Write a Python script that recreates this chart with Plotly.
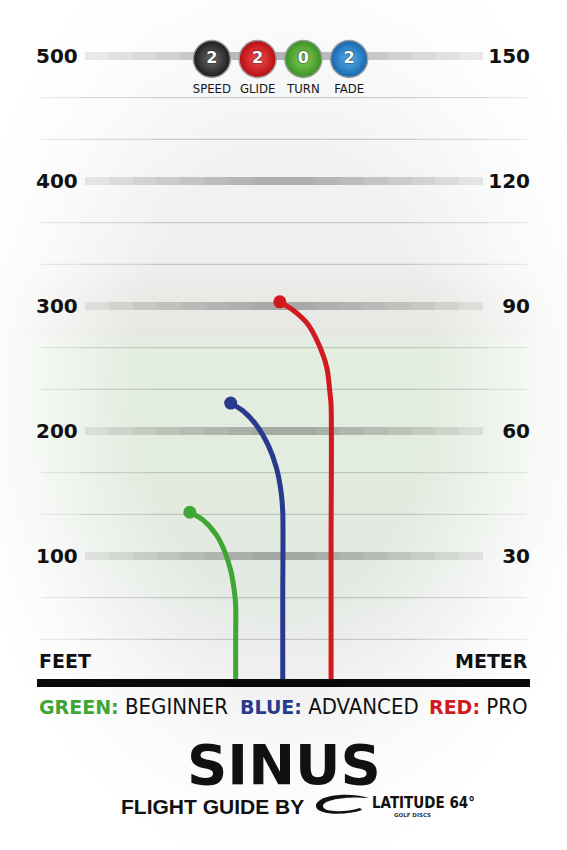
import base64
import plotly.graph_objects as go

# ---------------- data ----------------
meter_ticks = [30, 60, 90, 120, 150]
feet_labels = ["100", "200", "300", "400", "500"]
meter_labels = ["30", "60", "90", "120", "150"]
minor_ticks = [10, 20, 40, 50, 70, 80, 100, 110, 130, 140]

# flight paths: lateral position (m) and distance (m)
green_x = [-11.6, -11.6, -11.6, -11.9, -12.7, -14.2, -16.2, -19.4, -22.6]
green_y = [0, 9, 18.2, 21.4, 26.2, 31.0, 35.0, 38.6, 40.5]
blue_x = [-0.3, -0.3, -0.3, -0.7, -1.8, -3.8, -6.6, -9.8, -12.8]
blue_y = [0, 20, 40.6, 45.4, 51.1, 56.6, 61.4, 64.8, 66.7]
red_x = [11.3, 11.3, 11.3, 11.0, 10.3, 8.2, 5.5, 2.2, -1.0]
red_y = [0, 33, 66.2, 69.4, 75.1, 81.1, 85.9, 89.0, 91.0]

level_names = ["GREEN:", "BLUE:", "RED:"]
level_labels = ["BEGINNER", "ADVANCED", "PRO"]
level_colors = ["#3fa535", "#283a8c", "#d2191e"]

flight_labels = ["SPEED", "GLIDE", "TURN", "FADE"]
flight_values = ["2", "2", "0", "2"]
flight_edge = ["#1c1c1c", "#b80d12", "#3a9222", "#1566ad"]
flight_center = ["#6e6e6e", "#f25050", "#86d05a", "#5ab4ee"]

disc_name = "SINUS"

# ---------------- layout geometry ----------------
W, H = 567, 850
ML, MR, MT, MB = 37, 37, 44, 156
PW, PH = W - ML - MR, H - MT - MB
BASE = H - MB


def px(x):
    return (x - ML) / PW


def py(y):
    return (BASE - y) / PH


S = 625 / 150.0  # px per metre
y_range = [(681 - BASE) / S, (681 - MT) / S]
x_range = [(ML - 284) / S, (W - MR - 284) / S]

fig = go.Figure()

paths = [(green_x, green_y), (blue_x, blue_y), (red_x, red_y)]
for (xs, ys), col in zip(paths, level_colors):
    fig.add_trace(go.Scatter(x=xs, y=ys, mode="lines",
                             line=dict(color=col, width=5, shape="spline", smoothing=0.8),
                             hoverinfo="skip", showlegend=False))
    fig.add_trace(go.Scatter(x=[xs[-1]], y=[ys[-1]], mode="markers",
                             marker=dict(color=col, size=13),
                             hoverinfo="skip", showlegend=False))

# dummy trace for the right (metre) axis
fig.add_trace(go.Scatter(x=[None], y=[None], yaxis="y2", showlegend=False, hoverinfo="skip"))

# flight-number badges
fig.add_trace(go.Scatter(
    x=flight_labels, y=[0] * 4, xaxis="x2", yaxis="y3", mode="markers+text",
    marker=dict(size=37, color=flight_edge,
                gradient=dict(type="radial", color=flight_center),
                line=dict(color="#9c9c9c", width=1.5)),
    text=flight_values, textposition="middle center",
    textfont=dict(family="DejaVu Sans", size=16, color="white", weight="bold",
                  shadow="0px 0px 2px #000"),
    cliponaxis=False, hoverinfo="skip", showlegend=False))
fig.add_trace(go.Scatter(
    x=flight_labels, y=[0] * 4, xaxis="x2", yaxis="y3", mode="markers+text",
    marker=dict(size=37, opacity=0),
    text=flight_labels, textposition="bottom center",
    textfont=dict(family="Liberation Sans Narrow, DejaVu Sans Condensed, sans-serif",
                  size=13, color="#151515"),
    cliponaxis=False, hoverinfo="skip", showlegend=False))

# ---------------- background (gradient image) ----------------
svg = f'''<svg xmlns="http://www.w3.org/2000/svg" width="{W}" height="{H}" viewBox="0 0 {W} {H}">
<defs>
<linearGradient id="v" x1="0" y1="0" x2="0" y2="1">
<stop offset="0" stop-color="#f4f5f7"/>
<stop offset="0.15" stop-color="#f0f2f4"/>
<stop offset="0.30" stop-color="#eef0f1"/>
<stop offset="0.35" stop-color="#e9eae6"/>
<stop offset="0.395" stop-color="#e5e8e2"/>
<stop offset="0.41" stop-color="#e3ede0"/>
<stop offset="0.56" stop-color="#e2ebdf"/>
<stop offset="0.70" stop-color="#e4e9e3"/>
<stop offset="0.80" stop-color="#e9eae9"/>
<stop offset="1" stop-color="#f2f2f2"/>
</linearGradient>
<radialGradient id="r" cx="0.5" cy="0.45" r="0.58">
<stop offset="0.45" stop-color="#ffffff" stop-opacity="0"/>
<stop offset="0.8" stop-color="#ffffff" stop-opacity="0.75"/>
<stop offset="1" stop-color="#ffffff" stop-opacity="1"/>
</radialGradient>
</defs>
<rect width="{W}" height="{H}" fill="url(#v)"/>
<rect width="{W}" height="{H}" fill="url(#r)"/>
</svg>'''
src = "data:image/svg+xml;base64," + base64.b64encode(svg.encode()).decode()

shapes = []
# major bands (gradient from layered translucent strokes)
band_layers = [(0.0, 1.0, 0.08)] + [(0.06 * i, 1 - 0.06 * i, 0.032) for i in range(1, 8)]
for v in meter_ticks:
    for f0, f1, a in band_layers:
        shapes.append(dict(type="line", xref="paper", yref="y",
                           x0=px(85 + f0 * 398), x1=px(85 + f1 * 398), y0=v, y1=v,
                           line=dict(color=f"rgba(0,0,0,{a:.3f})", width=8), layer="below"))
# thin lines
thin_layers = [(41, 527, 0.14), (80, 488, 0.10), (150, 418, 0.08)]
for v in minor_ticks:
    for x0, x1, a in thin_layers:
        shapes.append(dict(type="line", xref="paper", yref="y",
                           x0=px(x0), x1=px(x1), y0=v, y1=v,
                           line=dict(color=f"rgba(80,80,80,{a})", width=1), layer="below"))
# baseline bar
shapes.append(dict(type="rect", xref="paper", yref="paper",
                   x0=px(37), x1=px(530), y0=py(687), y1=py(679),
                   fillcolor="#0a0a0a", line=dict(width=0), layer="above"))


# logo swoosh
def P(x, y):
    return f"{px(x):.5f},{py(y):.5f}"


sw = (f"M {P(369,798)} C {P(345,791)} {P(316,796)} {P(316,806)} "
      f"C {P(316,815)} {P(345,816)} {P(362,810)} L {P(360,808)} "
      f"C {P(343,813)} {P(323,812)} {P(323,806)} "
      f"C {P(323,800)} {P(345,796)} {P(369,798)} Z")
shapes.append(dict(type="path", xref="paper", yref="paper", path=sw,
                   fillcolor="#111111", line=dict(width=0)))

BOLDX = "DejaVu Sans"
NARROW = "Liberation Sans Narrow, DejaVu Sans Condensed, sans-serif"

ann = []
ann.append(dict(x=px(37), y=py(661), text="FEET", xanchor="left", yanchor="middle",
                font=dict(family=BOLDX, size=19, color="#111", weight="bold")))
ann.append(dict(x=px(530), y=py(661), text="METER", xanchor="right", yanchor="middle",
                font=dict(family=BOLDX, size=19, color="#111", weight="bold")))

legend_pos = [(37, "left"), (329, "center"), (530, "right")]
for (xp, anc), nm, lab, col in zip(legend_pos, level_names, level_labels, level_colors):
    txt = (f"<span style='font-family:DejaVu Sans;font-weight:bold;font-size:19px;color:{col}'>{nm}</span>"
           f" {lab}")
    ann.append(dict(x=px(xp), y=py(706), text=txt, xanchor=anc, yanchor="middle",
                    font=dict(family=NARROW, size=22, color="#111")))

ann.append(dict(x=px(283.5), y=py(764), text=disc_name, xanchor="center", yanchor="middle",
                font=dict(family=BOLDX, size=56, color="#111", weight="bold")))
ann.append(dict(x=px(119), y=py(806), text="FLIGHT GUIDE BY", xanchor="left", yanchor="middle",
                font=dict(family="Liberation Sans", size=21, color="#111", weight="bold")))
ann.append(dict(x=px(370), y=py(803), text="LATITUDE 64°", xanchor="left", yanchor="middle",
                font=dict(family=NARROW, size=15, color="#111", weight="bold")))
ann.append(dict(x=px(412), y=py(815), text="GOLF DISCS", xanchor="center", yanchor="middle",
                font=dict(family=BOLDX, size=5.5, color="#333", weight="bold")))
for a in ann:
    a.update(xref="paper", yref="paper", showarrow=False)

tickfont = dict(family=BOLDX, size=20, color="#111", weight="bold")
fig.update_layout(
    width=W, height=H, margin=dict(l=ML, r=MR, t=MT, b=MB, pad=0),
    paper_bgcolor="#f2f3f4", plot_bgcolor="rgba(0,0,0,0)",
    showlegend=False,
    xaxis=dict(range=x_range, visible=False, fixedrange=True),
    yaxis=dict(range=y_range, tickvals=meter_ticks, ticktext=feet_labels,
               ticklabelposition="inside", ticklabelstandoff=-4, side="left",
               showgrid=False, zeroline=False,
               showline=False, ticks="", tickfont=tickfont, fixedrange=True),
    yaxis2=dict(range=y_range, tickvals=meter_ticks, ticktext=meter_labels, overlaying="y",
                ticklabelposition="inside", ticklabelstandoff=-3, side="right", anchor="x",
                showgrid=False, zeroline=False, showline=False, ticks="", tickfont=tickfont,
                fixedrange=True),
    xaxis2=dict(domain=[px(189), px(372)], type="category", range=[-0.5, 3.5],
                anchor="y3", visible=False, fixedrange=True),
    yaxis3=dict(domain=[py(109), 1.0], range=[-50, 15], anchor="x2", visible=False,
                fixedrange=True),
    shapes=shapes, annotations=ann,
    images=[dict(source=src, xref="paper", yref="paper", x=px(0), y=py(0),
                 sizex=W / PW, sizey=H / PH, xanchor="left", yanchor="top",
                 sizing="stretch", layer="below")],
)

fig.write_html("out.html")
